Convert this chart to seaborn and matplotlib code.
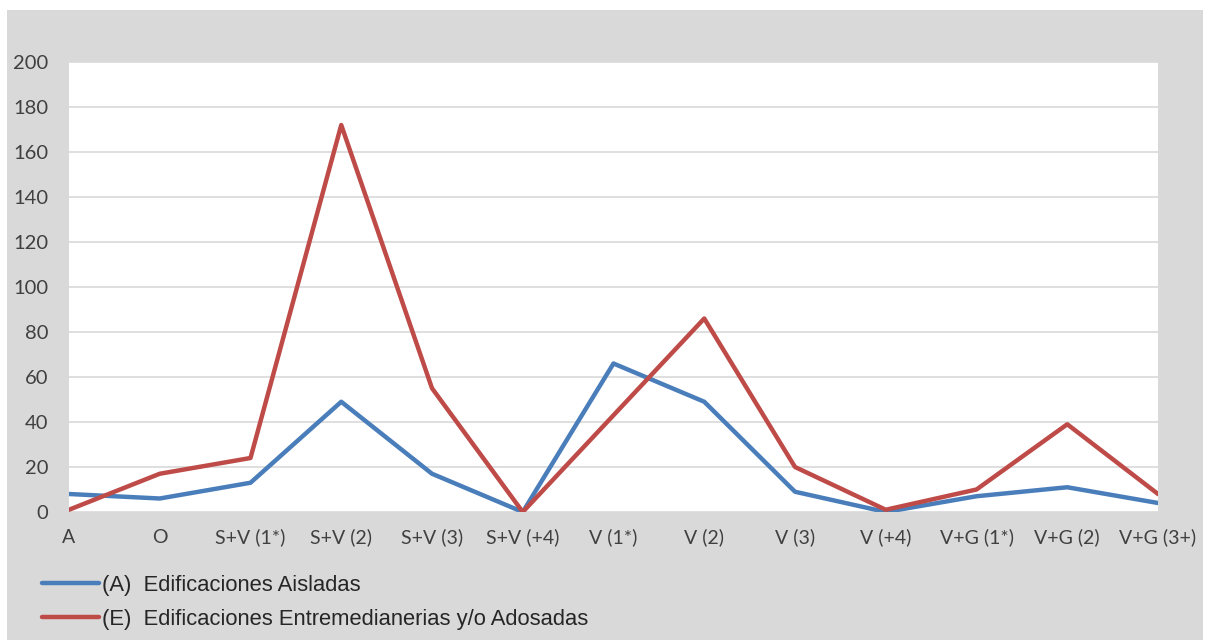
import numpy as np
import pandas as pd
import matplotlib
matplotlib.use('Agg')
import matplotlib.pyplot as plt
import seaborn as sns
from matplotlib.patches import Rectangle

#data
categorias = ['A', 'O', 'S+V (1*)', 'S+V (2)', 'S+V (3)', 'S+V (+4)', 'V (1*)',
              'V (2)', 'V (3)', 'V (+4)', 'V+G (1*)', 'V+G (2)', 'V+G (3+)']
aisladas = [8, 6, 13, 49, 17, 0, 66, 49, 9, 0, 7, 11, 4]
adosadas = [1, 17, 24, 172, 55, 0, 43, 86, 20, 1, 10, 39, 8]
series = ['(A)  Edificaciones Aisladas', '(E)  Edificaciones Entremedianerias y/o Adosadas']

df = pd.DataFrame({
    'cat': categorias * 2,
    'valor': aisladas + adosadas,
    'serie': [series[0]] * len(categorias) + [series[1]] * len(categorias),
})

sns.set_style('white')
plt.rcParams['font.family'] = ['Lato', 'DejaVu Sans']

fig = plt.figure(figsize=(12.09, 6.44), dpi=100)
fig.patches.append(Rectangle((7 / 1209, 4 / 644), 1196 / 1209, 630 / 644,
                             transform=fig.transFigure, facecolor='#d9d9d9',
                             edgecolor='none', zorder=-5))
ax = fig.add_axes([69 / 1209, 132 / 644, 1089 / 1209, 450 / 644])
ax.set_zorder(2)
ax.set_facecolor('white')

sns.lineplot(data=df, x='cat', y='valor', hue='serie', ax=ax,
             palette=['#4a7ebb', '#be4b48'], linewidth=3.2, sort=False,
             legend=False)

ax.set_xlim(0, len(categorias) - 1)
ax.set_ylim(0, 200)
ax.set_yticks(np.arange(0, 201, 20))
ax.set_xticks(range(len(categorias)))
ax.set_xticklabels(categorias)
ax.yaxis.grid(True, color='#d9d9d9', linewidth=1.2)
ax.set_axisbelow(True)
for s in ax.spines.values():
    s.set_visible(False)
ax.tick_params(axis='y', labelsize=14.5, colors='#404040', length=0, pad=15)
ax.tick_params(axis='x', labelsize=14, colors='#404040', length=0, pad=12)
ax.set_xlabel('')
ax.set_ylabel('')

handles = [plt.Line2D([], [], color='#4a7ebb', linewidth=3.2),
           plt.Line2D([], [], color='#be4b48', linewidth=3.2)]
leg = fig.legend(handles, series, loc='upper left', bbox_to_anchor=(22 / 1209, 1 - 555 / 644),
                 frameon=False, handlelength=2.6, handletextpad=0.15, labelspacing=0.6,
                 prop={'family': 'Liberation Sans', 'size': 15.8})
leg.set_zorder(3)

fig.savefig('out.png', dpi=100, facecolor='white')
